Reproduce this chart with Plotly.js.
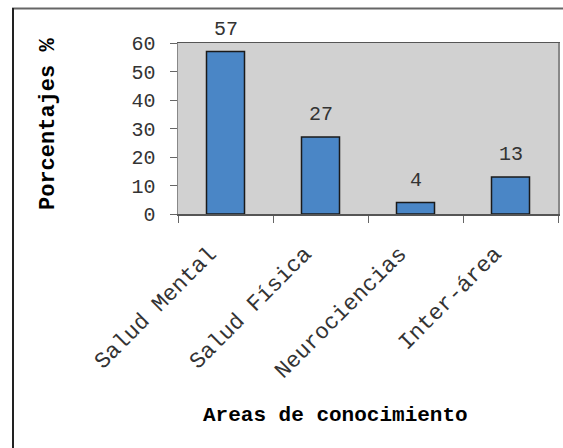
<!DOCTYPE html>
<html>
<head>
<meta charset="utf-8">
<script src="https://cdn.plot.ly/plotly-3.0.1.min.js"></script>
<style>html,body{margin:0;padding:0;background:#fff;}#chart{width:563px;height:448px;}</style>
</head>
<body>
<div id="chart"></div>
<script>
const categories = ["Salud Mental", "Salud Física", "Neurociencias", "Inter-área"];
const values = [57, 27, 4, 13];
const yTicks = [0, 10, 20, 30, 40, 50, 60];
const xTitle = "Areas de conocimiento";
const yTitle = "Porcentajes %";

const W = 563, H = 448;
const M = {l: 178, r: 5, t: 43, b: 234};
const pw = W - M.l - M.r, ph = H - M.t - M.b;
const px = X => (X - M.l) / pw;
const py = Y => (H - M.b - Y) / ph;

const FONT = "Liberation Mono, Courier New, monospace";

const trace = {
  type: "bar",
  x: categories,
  y: values,
  width: 0.4,
  marker: {color: "#4a86c6", line: {color: "#1a1a1a", width: 1.5}},
  hoverinfo: "none"
};

const annotations = categories.map((c, i) => ({
  x: c, y: values[i], xref: "x", yref: "y",
  text: String(values[i]), showarrow: false,
  yanchor: "bottom", yshift: 9,
  font: {family: FONT, size: 20, color: "#333"}
}));
annotations.push({
  xref: "paper", yref: "paper", x: px(335), y: py(415),
  xanchor: "center", yanchor: "middle", showarrow: false,
  text: xTitle, font: {family: FONT, size: 21, color: "#000", weight: "bold"}
});
annotations.push({
  xref: "paper", yref: "paper", x: px(48), y: py(124),
  xanchor: "center", yanchor: "middle", showarrow: false, textangle: -90,
  text: yTitle, font: {family: FONT, size: 22, color: "#000", weight: "bold"}
});

const layout = {
  width: W, height: H,
  margin: M,
  paper_bgcolor: "#ffffff",
  plot_bgcolor: "#d1d1d1",
  showlegend: false,
  font: {family: FONT, color: "#333"},
  xaxis: {
    type: "category",
    tickangle: -45,
    tickfont: {family: FONT, size: 22.5, color: "#333"},
    ticks: "outside", ticklen: 7, tickcolor: "#666",
    tickson: "boundaries",
    ticklabelshift: -16, ticklabelstandoff: 16,
    showline: true, linecolor: "#555", linewidth: 1.5,
    mirror: true,
    showgrid: false, zeroline: false,
    automargin: false
  },
  yaxis: {
    range: [0, 60],
    tickvals: yTicks,
    tickfont: {family: FONT, size: 20, color: "#333"},
    ticks: "outside", ticklen: 7, tickcolor: "#666",
    ticklabelstandoff: 10,
    showline: true, linecolor: "#888", linewidth: 1.5,
    mirror: true,
    showgrid: false, zeroline: false,
    automargin: false
  },
  shapes: [
    {type: "line", xref: "paper", yref: "paper", x0: px(12), x1: px(563), y0: py(8.5), y1: py(8.5), line: {color: "#666", width: 2}},
    {type: "line", xref: "paper", yref: "paper", x0: px(13), x1: px(13), y0: py(8), y1: py(448), line: {color: "#222", width: 2}}
  ],
  annotations: annotations
};

Plotly.newPlot("chart", [trace], layout, {displayModeBar: false, staticPlot: true});
</script>
</body>
</html>
